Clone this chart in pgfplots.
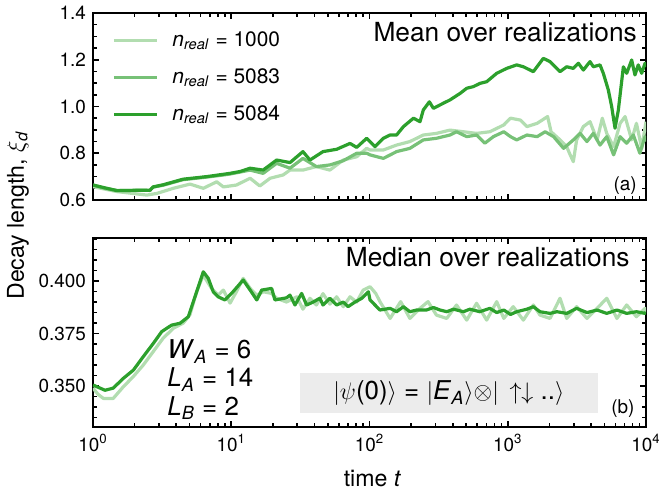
\documentclass[border=0pt]{standalone}
\usepackage{fontspec}
\setmainfont{TeX Gyre Heros}
\usepackage{pgfplots}
\pgfplotsset{compat=1.18}
\definecolor{gLight}{RGB}{178,221,176}
\definecolor{gMid}{RGB}{119,193,119}
\definecolor{gDark}{RGB}{44,160,44}
\definecolor{boxgray}{RGB}{236,236,236}
\tikzset{dl/.style={line width=1.6bp, line join=round}}
\begin{document}
\begin{tikzpicture}
\path[use as bounding box] (-46.5bp,-32bp) rectangle (283bp,213.5bp);
% ---------------- top panel ----------------
\begin{axis}[at={(0,113.5bp)}, anchor=south west,
  scale only axis, width=276.5bp, height=93.5bp,
  xmode=log, xmin=1, xmax=10000,
  xtick={1,10,100,1000,10000},
  minor xtick={2,3,4,5,6,7,8,9,20,30,40,50,60,70,80,90,200,300,400,500,600,700,800,900,2000,3000,4000,5000,6000,7000,8000,9000},
  tick align=inside, xtick pos=both, ytick pos=both,
  major tick length=3bp, minor tick length=1.8bp,
  every tick/.style={black, line width=0.8bp},
  axis line style={line width=1bp},
  tick label style={font=\fontsize{9.5}{11}\selectfont},
  ymin=0.6, ymax=1.4, ytick={0.6,0.8,1.0,1.2,1.4}, minor y tick num=3,
  xticklabels={},
  yticklabel={\pgfmathprintnumber[fixed,fixed zerofill,precision=1,assume math mode=true]{\tick}},
  legend cell align=left,
  legend image code/.code={\draw[#1] (0bp,0bp) -- (21.5bp,0bp);},
  legend style={at={(0.034,0.926)}, anchor=north west, draw=none, fill=none,
    inner sep=0pt, row sep=5.7bp, column sep=5bp,
    font=\fontsize{10.5}{12}\selectfont},
]
\addplot[gLight, dl] coordinates {(1,.657)(1.49,.636)(2.45,.621)(2.89,.628)(3.81,.65)(5.03,.668)(6.28,.650)(7.85,.678)(8.77,.656)(10.9,.664)(13.7,.693)(16.1,.66)(19.1,.693)(23.7,.707)(26.6,.728)(33.0,.728)(41.3,.743)(51.7,.728)(64.6,.771)(80.8,.785)(95.4,.821)(100.9,.814)(126,.814)(157,.835)(196,.85)(245,.878)(305,.885)(382,.899)(478,.892)(595,.885)(742,.892)(936,.921)(1047,.95)(1233,.942)(1376,.914)(1632,.928)(1942,.957)(2058,.892)(2320,.864)(2669,.828)(2830,.793)(2981,.764)(3150,.857)(3522,.914)(3937,.935)(4430,.857)(4830,.95)(5200,.885)(5830,.828)(6500,.928)(7060,.957)(7880,.857)(8530,.928)(9310,.821)(10000,.935)};
\addlegendentry{\textit{n}\textsubscript{\textit{real}} = 1000}
\addplot[gMid, dl] coordinates {(1,.664)(1.22,.650)(1.49,.641)(1.85,.641)(2.58,.642)(2.72,.655)(3.21,.663)(4.48,.687)(6.64,.698)(8.29,.705)(9.79,.711)(13.7,.728)(17.0,.714)(21.3,.757)(26.6,.736)(33.0,.778)(41.3,.743)(51.7,.75)(64.6,.768)(80.8,.80)(95.4,.80)(100.9,.793)(126,.778)(157,.807)(196,.821)(245,.857)(305,.864)(382,.878)(426,.892)(505,.871)(595,.878)(683,.843)(787,.871)(936,.892)(1047,.871)(1161,.857)(1376,.878)(1632,.871)(1865,.892)(2145,.871)(2535,.821)(2981,.857)(3340,.885)(3740,.850)(4160,.885)(4648,.835)(5200,.871)(5830,.793)(6500,.871)(7250,.843)(8100,.878)(9030,.80)(9840,.871)(10000,.85)};
\addlegendentry{\textit{n}\textsubscript{\textit{real}} = 5083}
\addplot[gDark, dl] coordinates {(1,.664)(1.22,.652)(1.49,.640)(1.85,.641)(2.19,.642)(2.58,.641)(2.72,.656)(3.21,.665)(4.48,.689)(6.64,.70)(8.29,.708)(9.79,.714)(11.6,.722)(13.7,.736)(17.0,.728)(21.3,.771)(26.6,.760)(33.0,.807)(37.1,.771)(46.1,.807)(57.9,.817)(72.3,.842)(80.8,.825)(95.4,.864)(100.9,.85)(109.6,.828)(126,.864)(140.7,.878)(157,.878)(176,.914)(208,.95)(232,.935)(245,.985)(271,1.02)(290,.992)(342,1.014)(382,1.028)(452,1.056)(505,1.078)(564,1.085)(630,1.099)(704,1.106)(832,1.142)(982,1.163)(1161,1.178)(1297,1.170)(1532,1.149)(1809,1.206)(2022,1.192)(2388,1.149)(2669,1.17)(2981,1.163)(3243,1.185)(3522,1.156)(3937,1.192)(4160,1.170)(4648,1.178)(4913,1.142)(5337,1.071)(5648,.999)(5970,.907)(6310,.985)(6860,1.170)(7250,1.142)(7880,1.199)(8320,1.135)(8790,1.178)(9310,1.142)(9840,1.185)(10000,1.17)};
\addlegendentry{\textit{n}\textsubscript{\textit{real}} = 5084}
\node[anchor=base east, inner sep=0pt, font=\fontsize{13.2}{15}\selectfont] at (rel axis cs:0.984,0.85) {Mean over realizations};
\node[anchor=base east, inner sep=0pt, font=\fontsize{9.5}{11}\selectfont] at (rel axis cs:0.984,0.053) {(a)};
\end{axis}
% ---------------- bottom panel ----------------
\begin{axis}[at={(0,0)}, anchor=south west,
  scale only axis, width=276.5bp, height=94.5bp,
  xmode=log, xmin=1, xmax=10000,
  xtick={1,10,100,1000,10000},
  minor xtick={2,3,4,5,6,7,8,9,20,30,40,50,60,70,80,90,200,300,400,500,600,700,800,900,2000,3000,4000,5000,6000,7000,8000,9000},
  tick align=inside, xtick pos=both, ytick pos=both,
  major tick length=3bp, minor tick length=1.8bp,
  every tick/.style={black, line width=0.8bp},
  axis line style={line width=1bp},
  tick label style={font=\fontsize{9.5}{11}\selectfont},
  ymin=0.3305, ymax=0.4205, ytick={0.35,0.375,0.4},
  minor ytick={0.335,0.34,0.345,0.355,0.36,0.365,0.37,0.38,0.385,0.39,0.395,0.405,0.41,0.415,0.42},
  xticklabels={10\textsuperscript{0},10\textsuperscript{1},10\textsuperscript{2},10\textsuperscript{3},10\textsuperscript{4}},
  yticklabel={\pgfmathprintnumber[fixed,fixed zerofill,precision=3,assume math mode=true]{\tick}},
]
\fill[boxgray] (rel axis cs:0.374,0.074) rectangle (rel axis cs:0.913,0.286);
\addplot[gLight, dl] coordinates {(1,.349)(1.09,.346)(1.19,.3441)(1.40,.3441)(1.66,.3497)(1.95,.3544)(2.31,.360)(2.72,.3663)(3.21,.3727)(3.81,.3775)(4.50,.3800)(5.03,.3840)(5.62,.3949)(6.28,.4028)(7.20,.3965)(8.04,.3933)(8.77,.3957)(9.81,.3895)(10.9,.3949)(12.2,.4013)(13.7,.3965)(15.3,.3933)(17.1,.3949)(19.6,.3941)(21.3,.3918)(25.1,.390)(29.8,.3925)(33.0,.3866)(37.1,.3918)(41.3,.3886)(46.1,.394)(51.7,.389)(57.9,.3925)(64.6,.3878)(72.3,.3925)(80.8,.3900)(90.0,.3957)(100.9,.3973)(111,.3941)(119,.3902)(141,.3822)(168,.3902)(196,.3822)(232,.3870)(265,.3902)(305,.3838)(362,.3822)(426,.3886)(505,.3814)(595,.3894)(704,.3814)(832,.3902)(936,.3822)(1095,.3878)(1297,.3814)(1532,.3886)(1710,.3838)(2022,.3822)(2388,.3918)(2669,.3822)(3150,.3878)(3740,.3822)(4430,.3870)(5200,.3918)(6160,.3822)(7250,.3886)(8530,.383)(9840,.3870)(10000,.385)};
\addplot[gDark, dl] coordinates {(1,.3505)(1.22,.348)(1.40,.349)(1.66,.3537)(1.96,.3576)(2.31,.364)(2.73,.3703)(3.14,.3759)(3.70,.379)(4.26,.3799)(4.89,.383)(5.62,.3949)(6.28,.4044)(6.82,.4013)(7.41,.3949)(8.04,.3925)(8.99,.391)(10.3,.3949)(12.2,.4005)(13.7,.3957)(15.3,.391)(16.6,.3957)(19.6,.3965)(20.7,.391)(25.1,.392)(26.6,.3933)(28.9,.3886)(32.3,.3941)(35.1,.3886)(39.1,.390)(43.7,.3918)(46.1,.3886)(51.7,.3918)(57.9,.3886)(64.6,.390)(70.0,.3878)(78.6,.390)(87.9,.3918)(98.2,.3949)(100.9,.391)(119,.3862)(141,.3870)(157,.3854)(176,.3878)(196,.3854)(219,.3862)(258,.3862)(290,.3874)(324,.3862)(362,.3854)(405,.3866)(478,.3854)(532,.3866)(628,.3854)(742,.387)(832,.3850)(936,.3862)(1047,.3841)(1161,.3854)(1376,.3866)(1532,.3878)(1710,.3854)(2022,.3846)(2270,.3854)(2669,.3846)(3150,.3870)(3740,.3850)(4430,.3862)(5200,.3846)(6160,.3862)(7250,.3846)(8530,.3854)(9840,.3846)(10000,.3852)};
\node[font=\fontsize{13}{15}\selectfont, inner sep=0pt] at (rel axis cs:0.6435,0.18) {$|\psi$(0)$\rangle$ = $|$\textit{E}\textsubscript{\textit{A}}$\rangle{\otimes}|\,\uparrow\downarrow$ ..$\rangle$};
\node[anchor=base west, inner sep=0pt, font=\fontsize{13}{15}\selectfont] at (rel axis cs:0.134,0.3635) {\textit{W}\textsubscript{\textit{A}} = 6};
\node[anchor=base west, inner sep=0pt, font=\fontsize{13}{15}\selectfont] at (rel axis cs:0.134,0.213) {\textit{L}\textsubscript{\textit{A}} = 14};
\node[anchor=base west, inner sep=0pt, font=\fontsize{13}{15}\selectfont] at (rel axis cs:0.134,0.0635) {\textit{L}\textsubscript{\textit{B}} = 2};
\node[anchor=base east, inner sep=0pt, font=\fontsize{13.2}{15}\selectfont] at (rel axis cs:0.971,0.847) {Median over realizations};
\node[anchor=base east, inner sep=0pt, font=\fontsize{9.5}{11}\selectfont] at (rel axis cs:0.980,0.069) {(b)};
\end{axis}
\node[anchor=base, font=\fontsize{11.6}{13}\selectfont] at (139.75bp,-29.5bp) {time \textit{t}};
\node[rotate=90, font=\fontsize{11.6}{13}\selectfont] at (-37.5bp,106bp) {Decay length, $\xi$\textsubscript{\textit{d}}};
\end{tikzpicture}
\end{document}
